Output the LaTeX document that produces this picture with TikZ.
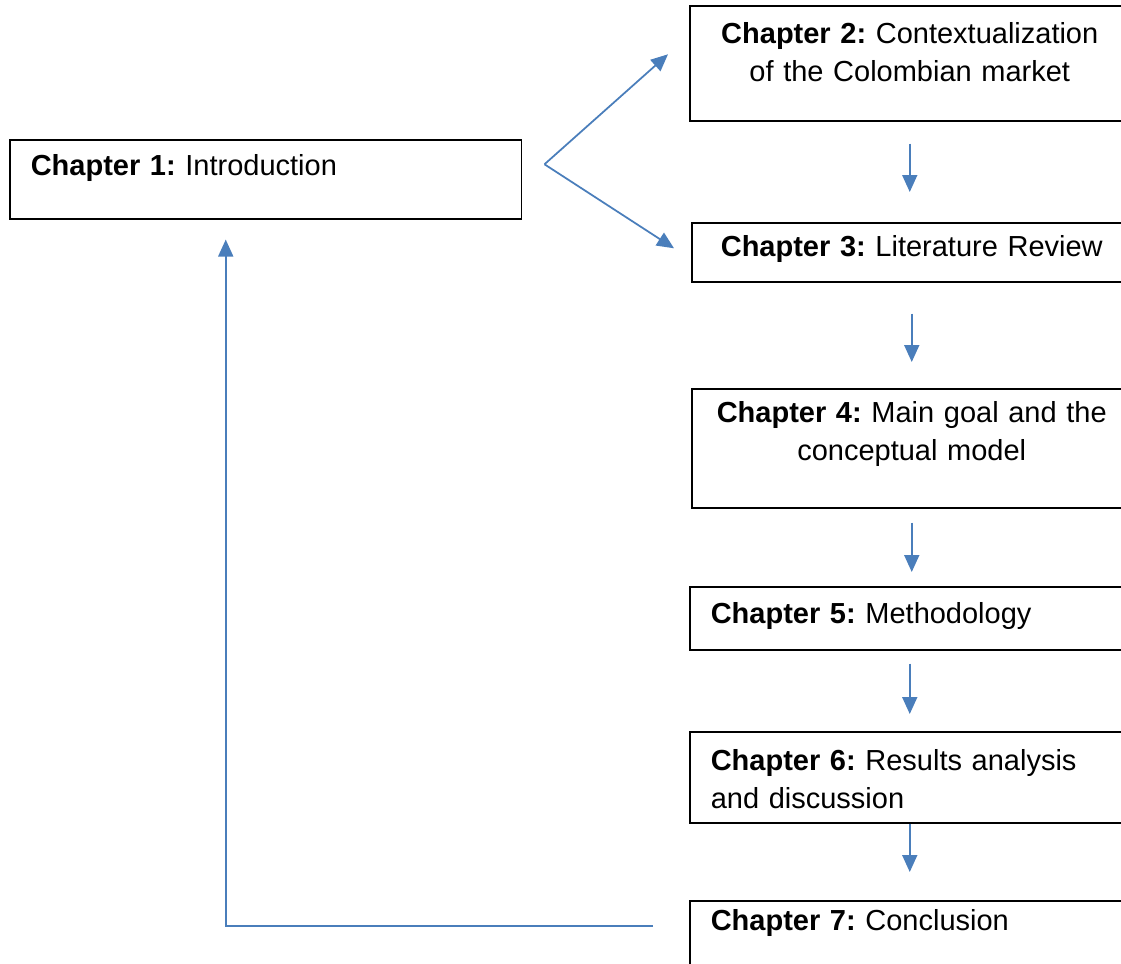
\documentclass[tikz,border=0pt]{standalone}
\usepackage{fontspec}
\setmainfont{Liberation Sans}
\usepackage{xcolor}
\usetikzlibrary{arrows.meta,calc}

\begin{document}
\begin{tikzpicture}[x=0.02cm, y=-0.02cm,
  every node/.style={draw, line width=0.9pt, anchor=north west, inner xsep=0.42cm, inner ysep=0pt, text width=7.96cm, font=\fontsize{16.5pt}{21.6pt}\selectfont\frenchspacing},
  flecha/.style={draw=azulFlecha, line width=1pt, -{Triangle[length=0.34cm,width=0.3cm]}}]

% Color de las flechas
\definecolor{azulFlecha}{RGB}{74,126,187}

\useasboundingbox (0,0) rectangle (1121,963);

% Capitulo inicial
\node[text width=9.4cm, align=left, text height=0.72cm, text depth=0.86cm] (c1) at (9,139) {\textbf{Chapter 1:} Introduction};

% Columna derecha
\node[align=center, text height=0.76cm, text depth=1.54cm] (c2) at (689,5) {\textbf{Chapter 2:} Contextualization\\of the Colombian market};
\node[align=center, text height=0.68cm, text depth=0.5cm] (c3) at (691,222) {\textbf{Chapter 3:} Literature Review};
\node[align=center, text height=0.68cm, text depth=1.7cm] (c4) at (691,388) {\textbf{Chapter 4:} Main goal and the\\conceptual model};
\node[align=left, text height=0.74cm, text depth=0.52cm] (c5) at (689,586) {\textbf{Chapter 5:} Methodology};
\node[align=left, text height=0.78cm, text depth=1.04cm] (c6) at (689,731) {\textbf{Chapter 6:} Results analysis\\and discussion};
\node[align=left, text height=0.6cm, text depth=1.0cm] (c7) at (689,900) {\textbf{Chapter 7:} Conclusion};

% Bifurcacion desde el capitulo 1
\coordinate (bifurca) at ($(c1.east)+(22,-15)$);
\draw[flecha] (bifurca) -- ($(c2.west)+(-21,-9)$);
\draw[flecha] (bifurca) -- ($(c3.west)+(-17,-4)$);

% Flechas verticales
\draw[flecha, shorten <=0.44cm, shorten >=0.6cm] (c2.south) -- (c2.south |- c3.north);
\draw[flecha, shorten <=0.62cm, shorten >=0.52cm] (c3.south) -- (c3.south |- c4.north);
\draw[flecha, shorten <=0.28cm, shorten >=0.28cm] (c4.south) -- (c4.south |- c5.north);
\draw[flecha, shorten <=0.26cm, shorten >=0.34cm] (c5.south) -- (c5.south |- c6.north);
\draw[flecha, shorten >=0.56cm] (c6.south) -- (c6.south |- c7.north);

% Retorno al capitulo 1
\coordinate (retorno) at ($(c7.north west)+(-36,26)$);
\draw[flecha] (retorno) -| ($(c1.south)+(-40,20)$);

\end{tikzpicture}
\end{document}
